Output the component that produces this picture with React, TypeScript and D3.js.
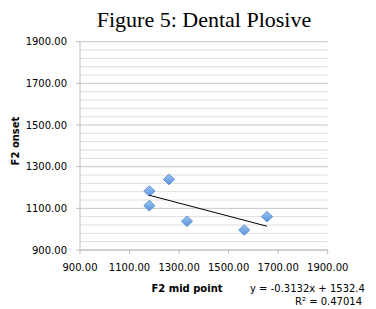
import React from 'react';
import * as d3 from 'd3';

// Data

const midPoint = [1180, 1180, 1259, 1332, 1563, 1655];
const onset = [1183, 1113, 1239, 1038, 996, 1060];
const tickValues = [900, 1100, 1300, 1500, 1700, 1900];
const slope = -0.3132;
const intercept = 1532.4;

const W = 376;
const H = 309;

function DentalPlosive() {
    const x = d3.scaleLinear().domain([900, 1900]).range([80, 327.7]);
    const y = d3.scaleLinear().domain([900, 1900]).range([250, 41.7]);
    const minor = d3.range(900, 1901, 40);
    const fmt = d3.format('.2f');

    const xMin = d3.min(midPoint) as number;
    const xMax = d3.max(midPoint) as number;
    const trend = d3.line<number>().x((d) => x(d)).y((d) => y(slope * d + intercept));

    // square-ish diamond like Excel's marker
    const diamond = 'M0,-5.3L5.6,0L0,5.3L-5.6,0Z';

    return (
        <svg width={W} height={H} style={{ position: 'absolute', left: 0, top: 0, background: '#fff' }}>
            <defs>
                <linearGradient id="mk" x1="0" y1="0" x2="0" y2="1">
                    <stop offset="0" stopColor="#9cc3f0" />
                    <stop offset="1" stopColor="#5a94de" />
                </linearGradient>
            </defs>
            <text x={204} y={27} textAnchor="middle" fontFamily="Liberation Serif" fontSize={22} fill="#000">
                Figure 5: Dental Plosive
            </text>

            {/* grid */}
            <g>
                {minor.map((v) => (
                    <line key={v} x1={x(900)} x2={x(1900)} y1={y(v)} y2={y(v)}
                        stroke={(v - 900) % 200 === 0 ? '#c4c4c4' : '#dedede'} strokeWidth={1} />
                ))}
            </g>

            {/* y axis */}
            <line x1={80} x2={80} y1={y(1900)} y2={y(900)} stroke="#bdbdbd" />
            {tickValues.map((v) => (
                <g key={'y' + v}>
                    <line x1={76} x2={80} y1={y(v)} y2={y(v)} stroke="#bdbdbd" />
                    <text x={67} y={y(v)} dy="0.35em" textAnchor="end" fontFamily="DejaVu Sans" fontSize={10} fill="#000">
                        {fmt(v)}
                    </text>
                </g>
            ))}

            {/* x axis */}
            <line x1={x(900)} x2={x(1900)} y1={250} y2={250} stroke="#bdbdbd" />
            {tickValues.map((v) => (
                <g key={'x' + v}>
                    <line x1={x(v)} x2={x(v)} y1={250} y2={254} stroke="#bdbdbd" />
                    <text x={x(v)} y={271} textAnchor="middle" fontFamily="DejaVu Sans" fontSize={10} fill="#000">
                        {fmt(v)}
                    </text>
                </g>
            ))}

            <text transform="translate(19,141) rotate(-90)" textAnchor="middle" fontFamily="DejaVu Sans" fontWeight="bold" fontSize={10} fill="#000">
                F2 onset
            </text>
            <text x={187} y={292} textAnchor="middle" fontFamily="DejaVu Sans" fontWeight="bold" fontSize={10} fill="#000">
                F2 mid point
            </text>
            <text x={250} y={292} fontFamily="DejaVu Sans" fontSize={10} fill="#000">
                y = -0.3132x + 1532.4
            </text>
            <text x={295} y={305} fontFamily="DejaVu Sans" fontSize={10} fill="#000">
                R² = 0.47014
            </text>

            {/* points */}
            {midPoint.map((m, i) => (
                <path key={i} d={diamond} transform={`translate(${x(m)},${y(onset[i])})`}
                    fill="url(#mk)" stroke="#4d86cf" strokeWidth={0.8} />
            ))}

            {/* trendline */}
            <path d={trend([xMin, xMax]) as string} fill="none" stroke="#000" strokeWidth={1} />
        </svg>
    );
}

export default function App() {
    return <DentalPlosive />;
}
